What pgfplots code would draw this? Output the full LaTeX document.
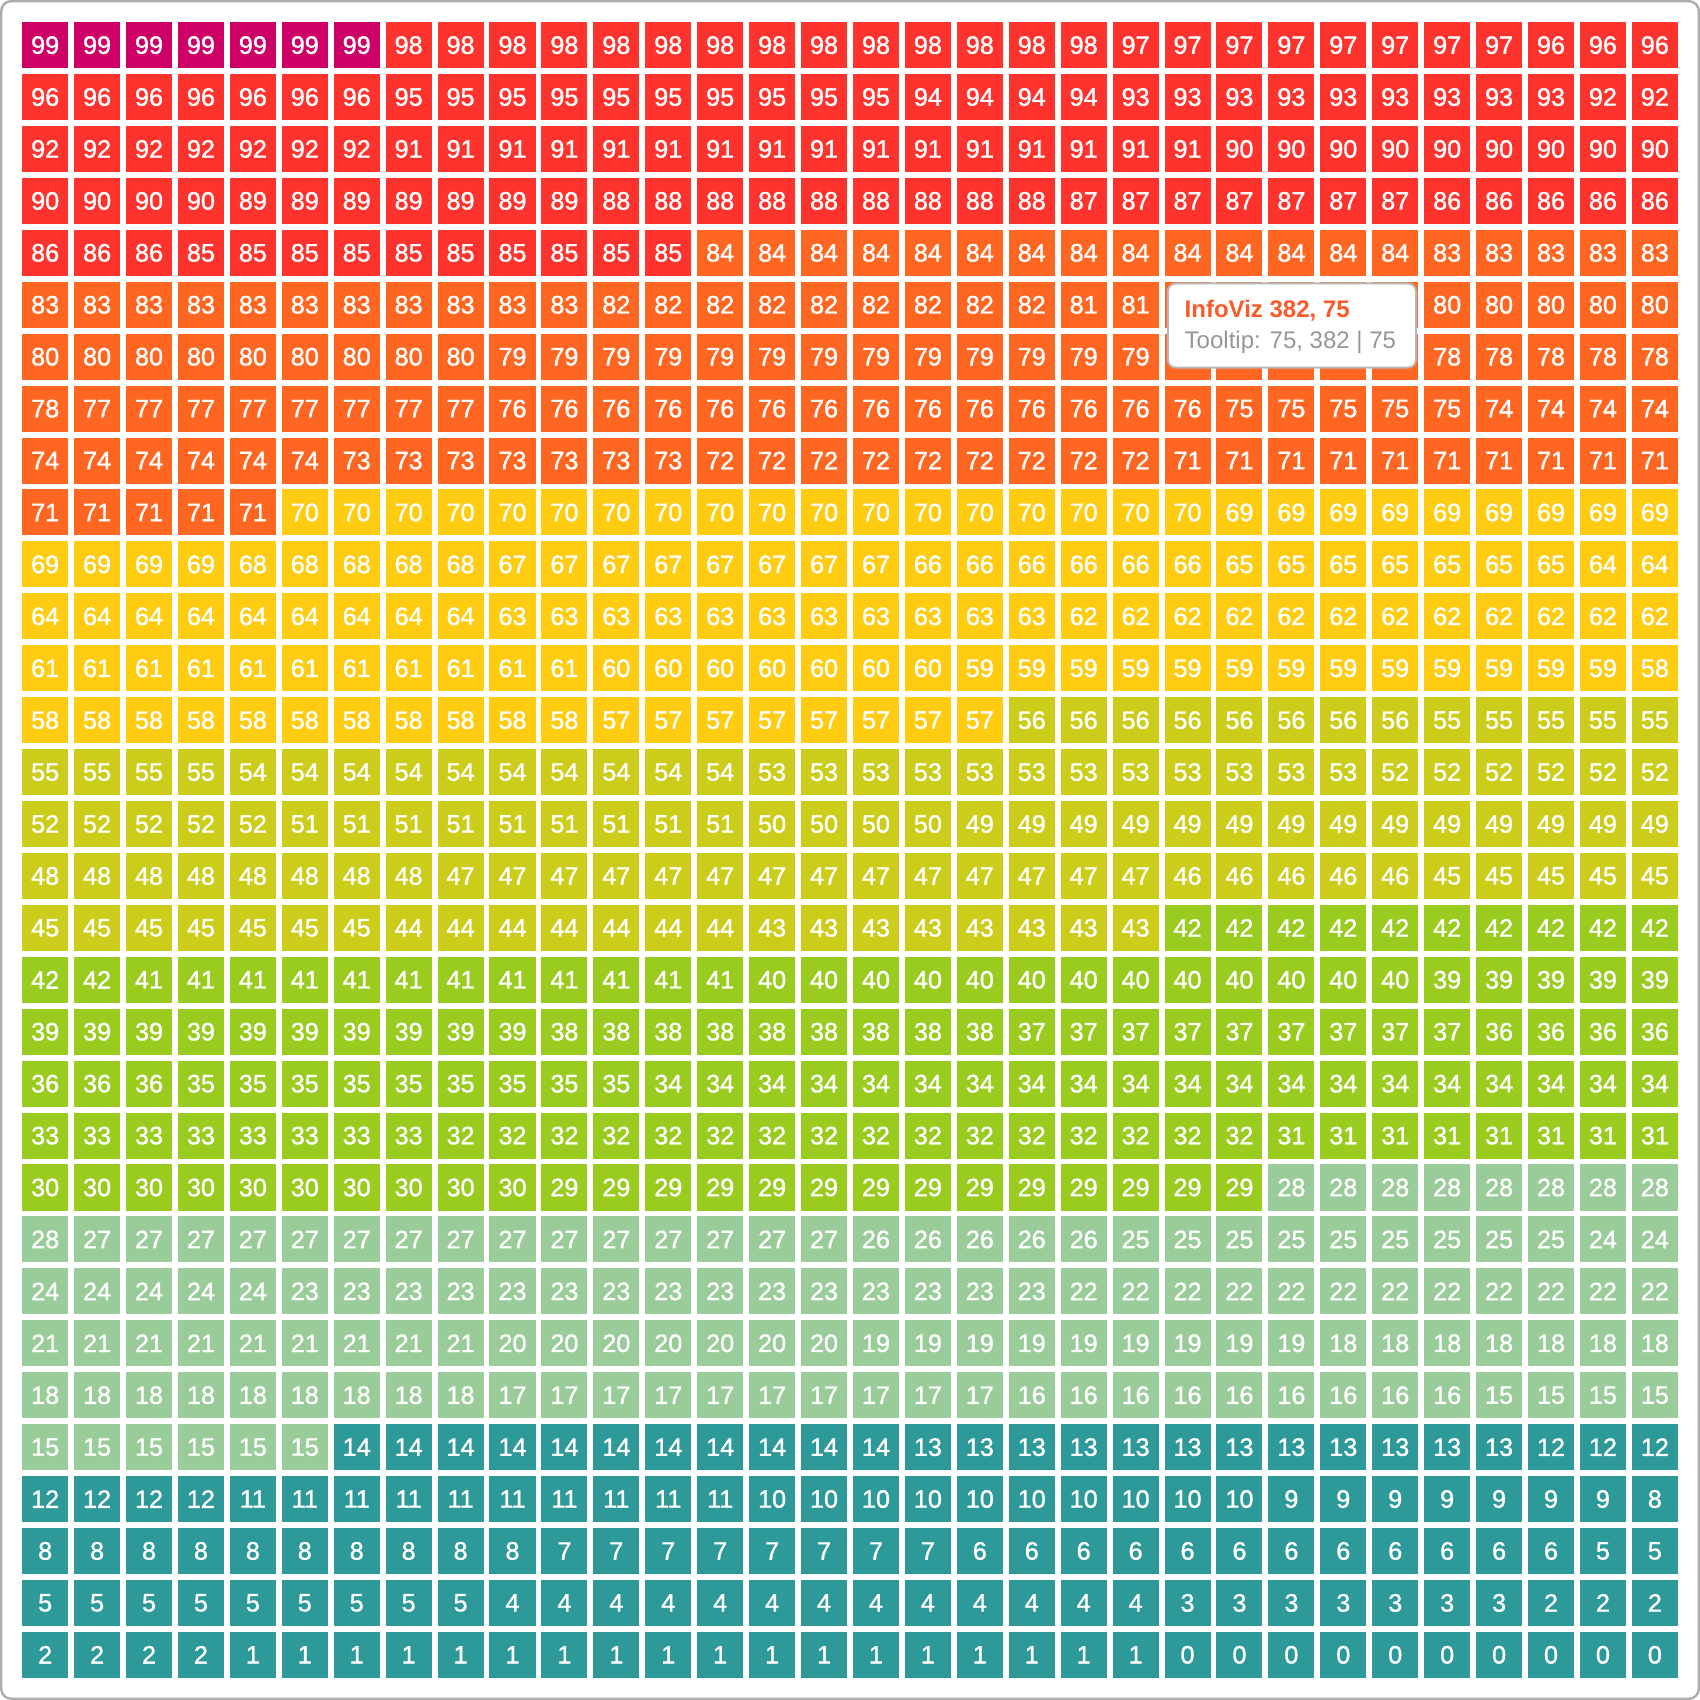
\documentclass[border=0pt]{standalone}
\usepackage{pgfplots}
\usepackage{pgfplotstable}
\pgfplotsset{compat=1.18}
\usepackage{fontspec}
\setmainfont{Liberation Sans}
\newfontfamily\cellfam[FakeBold=1.2]{Liberation Sans}
\definecolor{tipOrange}{RGB}{250,90,40}
\definecolor{tipGray}{RGB}{150,150,150}
\definecolor{cA}{RGB}{46,153,153}
\definecolor{cB}{RGB}{153,204,153}
\definecolor{cC}{RGB}{153,204,30}
\definecolor{cD}{RGB}{204,204,26}
\definecolor{cE}{RGB}{255,204,17}
\definecolor{cF}{RGB}{255,102,34}
\definecolor{cG}{RGB}{255,51,45}
\definecolor{cH}{RGB}{204,0,102}
\newcommand\cellfont{\cellfam\fontsize{6.3}{6.3}\selectfont}

\pgfplotstableread[header=false]{
99 99 99 99 99 99 99 98 98 98 98 98 98 98 98 98 98 98 98 98 98 97 97 97 97 97 97 97 97 96 96 96
96 96 96 96 96 96 96 95 95 95 95 95 95 95 95 95 95 94 94 94 94 93 93 93 93 93 93 93 93 93 92 92
92 92 92 92 92 92 92 91 91 91 91 91 91 91 91 91 91 91 91 91 91 91 91 90 90 90 90 90 90 90 90 90
90 90 90 90 89 89 89 89 89 89 89 88 88 88 88 88 88 88 88 88 87 87 87 87 87 87 87 86 86 86 86 86
86 86 86 85 85 85 85 85 85 85 85 85 85 84 84 84 84 84 84 84 84 84 84 84 84 84 84 83 83 83 83 83
83 83 83 83 83 83 83 83 83 83 83 82 82 82 82 82 82 82 82 82 81 81 81 81 81 80 80 80 80 80 80 80
80 80 80 80 80 80 80 80 80 79 79 79 79 79 79 79 79 79 79 79 79 79 79 79 79 78 78 78 78 78 78 78
78 77 77 77 77 77 77 77 77 76 76 76 76 76 76 76 76 76 76 76 76 76 76 75 75 75 75 75 74 74 74 74
74 74 74 74 74 74 73 73 73 73 73 73 73 72 72 72 72 72 72 72 72 72 71 71 71 71 71 71 71 71 71 71
71 71 71 71 71 70 70 70 70 70 70 70 70 70 70 70 70 70 70 70 70 70 70 69 69 69 69 69 69 69 69 69
69 69 69 69 68 68 68 68 68 67 67 67 67 67 67 67 67 66 66 66 66 66 66 65 65 65 65 65 65 65 64 64
64 64 64 64 64 64 64 64 64 63 63 63 63 63 63 63 63 63 63 63 62 62 62 62 62 62 62 62 62 62 62 62
61 61 61 61 61 61 61 61 61 61 61 60 60 60 60 60 60 60 59 59 59 59 59 59 59 59 59 59 59 59 59 58
58 58 58 58 58 58 58 58 58 58 58 57 57 57 57 57 57 57 57 56 56 56 56 56 56 56 56 55 55 55 55 55
55 55 55 55 54 54 54 54 54 54 54 54 54 54 53 53 53 53 53 53 53 53 53 53 53 53 52 52 52 52 52 52
52 52 52 52 52 51 51 51 51 51 51 51 51 51 50 50 50 50 49 49 49 49 49 49 49 49 49 49 49 49 49 49
48 48 48 48 48 48 48 48 47 47 47 47 47 47 47 47 47 47 47 47 47 47 46 46 46 46 46 45 45 45 45 45
45 45 45 45 45 45 45 44 44 44 44 44 44 44 43 43 43 43 43 43 43 43 42 42 42 42 42 42 42 42 42 42
42 42 41 41 41 41 41 41 41 41 41 41 41 41 40 40 40 40 40 40 40 40 40 40 40 40 40 39 39 39 39 39
39 39 39 39 39 39 39 39 39 39 38 38 38 38 38 38 38 38 38 37 37 37 37 37 37 37 37 37 36 36 36 36
36 36 36 35 35 35 35 35 35 35 35 35 34 34 34 34 34 34 34 34 34 34 34 34 34 34 34 34 34 34 34 34
33 33 33 33 33 33 33 33 32 32 32 32 32 32 32 32 32 32 32 32 32 32 32 32 31 31 31 31 31 31 31 31
30 30 30 30 30 30 30 30 30 30 29 29 29 29 29 29 29 29 29 29 29 29 29 29 28 28 28 28 28 28 28 28
28 27 27 27 27 27 27 27 27 27 27 27 27 27 27 27 26 26 26 26 26 25 25 25 25 25 25 25 25 25 24 24
24 24 24 24 24 23 23 23 23 23 23 23 23 23 23 23 23 23 23 23 22 22 22 22 22 22 22 22 22 22 22 22
21 21 21 21 21 21 21 21 21 20 20 20 20 20 20 20 19 19 19 19 19 19 19 19 19 18 18 18 18 18 18 18
18 18 18 18 18 18 18 18 18 17 17 17 17 17 17 17 17 17 17 16 16 16 16 16 16 16 16 16 15 15 15 15
15 15 15 15 15 15 14 14 14 14 14 14 14 14 14 14 14 13 13 13 13 13 13 13 13 13 13 13 13 12 12 12
12 12 12 12 11 11 11 11 11 11 11 11 11 11 10 10 10 10 10 10 10 10 10 10 9 9 9 9 9 9 9 8
8 8 8 8 8 8 8 8 8 8 7 7 7 7 7 7 7 7 6 6 6 6 6 6 6 6 6 6 6 6 5 5
5 5 5 5 5 5 5 5 5 4 4 4 4 4 4 4 4 4 4 4 4 4 3 3 3 3 3 3 3 2 2 2
2 2 2 2 1 1 1 1 1 1 1 1 1 1 1 1 1 1 1 1 1 1 0 0 0 0 0 0 0 0 0 0
}\gridvalues

\pgfplotsset{
  cellplot/.style={only marks, mark=square*, mark size=5.55pt,
    color=#1, mark options={draw=#1, fill=#1},
    point meta=explicit, nodes near coords,
    every node near coord/.append style={anchor=center, text=white, font=\cellfont, inner sep=0pt}},
}

\begin{document}
\begin{tikzpicture}
\begin{axis}[
  x=12.975pt, y=12.975pt,
  xmin=-0.5, xmax=31.5, ymin=-0.5, ymax=31.5,
  hide axis,
  clip=false,
  unbounded coords=discard,
  /pgf/number format/assume math mode=true,
]
\pgfplotsinvokeforeach{0,...,31}{
  \addplot[cellplot=cA] table[x expr=#1, y expr={(\thisrowno{#1}<14.5) ? 31-\coordindex : nan}, meta index=#1] {\gridvalues};
  \addplot[cellplot=cB] table[x expr=#1, y expr={(\thisrowno{#1}>14.5 && \thisrowno{#1}<28.5) ? 31-\coordindex : nan}, meta index=#1] {\gridvalues};
  \addplot[cellplot=cC] table[x expr=#1, y expr={(\thisrowno{#1}>28.5 && \thisrowno{#1}<42.5) ? 31-\coordindex : nan}, meta index=#1] {\gridvalues};
  \addplot[cellplot=cD] table[x expr=#1, y expr={(\thisrowno{#1}>42.5 && \thisrowno{#1}<56.5) ? 31-\coordindex : nan}, meta index=#1] {\gridvalues};
  \addplot[cellplot=cE] table[x expr=#1, y expr={(\thisrowno{#1}>56.5 && \thisrowno{#1}<70.5) ? 31-\coordindex : nan}, meta index=#1] {\gridvalues};
  \addplot[cellplot=cF] table[x expr=#1, y expr={(\thisrowno{#1}>70.5 && \thisrowno{#1}<84.5) ? 31-\coordindex : nan}, meta index=#1] {\gridvalues};
  \addplot[cellplot=cG] table[x expr=#1, y expr={(\thisrowno{#1}>84.5 && \thisrowno{#1}<98.5) ? 31-\coordindex : nan}, meta index=#1] {\gridvalues};
  \addplot[cellplot=cH] table[x expr=#1, y expr={(\thisrowno{#1}>98.5) ? 31-\coordindex : nan}, meta index=#1] {\gridvalues};
}
\coordinate (frameSW) at ([shift={(-4.5pt,-4.5pt)}]rel axis cs:0,0);
\coordinate (frameNE) at ([shift={(4.5pt,4.5pt)}]rel axis cs:1,1);
\coordinate (tipSW) at (axis cs:21.62,24.79);
\coordinate (tipNE) at (axis cs:26.40,26.41);
\coordinate (tipA) at (axis cs:21.93,25.754);
\coordinate (tipB) at (axis cs:21.93,25.157);
\end{axis}
\draw[rounded corners=2.5pt, line width=0.6pt, draw=black!32] (frameSW) rectangle (frameNE);
\draw[rounded corners=2pt, fill=white, draw=black!28, line width=0.5pt] (tipSW) rectangle (tipNE);
\node[anchor=base west, inner sep=0pt, text=tipOrange, font=\fontsize{6}{6}\bfseries\selectfont]
  at (tipA) {InfoViz 382, 75};
\node[anchor=base west, inner sep=0pt, text=tipGray, font=\fontsize{6}{6}\selectfont]
  at (tipB) {Tooltip: 75, 382 | 75};
\end{tikzpicture}
\end{document}
